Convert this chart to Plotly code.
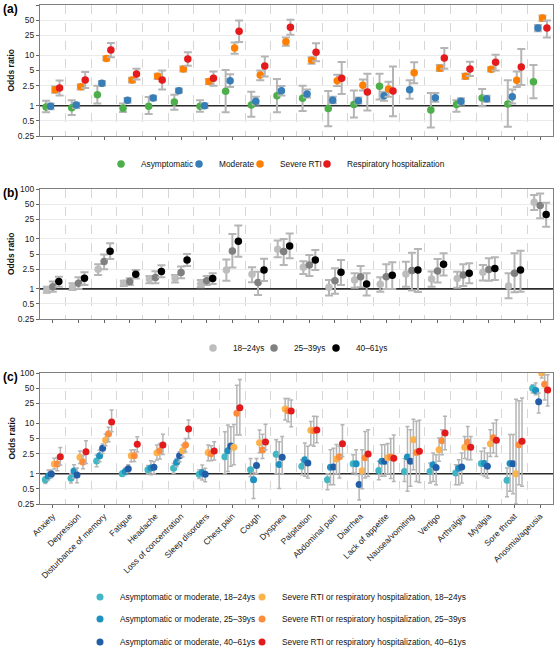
import numpy as np
import plotly.graph_objects as go

# ---------------- data ----------------
symptoms = ["Anxiety", "Depression", "Disturbance of memory", "Fatigue", "Headache",
            "Loss of concentration", "Sleep disorders", "Chest pain", "Cough", "Dyspnea",
            "Palpitation", "Abdominal pain", "Diarrhea", "Lack of appetite", "Nausea/vomiting",
            "Vertigo", "Arthralgia", "Myalgia", "Sore throat", "Anosmia/ageusia"]

y_tick_vals = [0.25, 0.5, 1, 2.5, 5, 10, 25, 50, 100]
y_tick_text = ["0.25", "0.5", "1", "2.5", "5", "10", "25", "50", "100"]

# Panel (a): severity of acute infection
a_names = ["Asymptomatic", "Moderate", "Severe RTI", "Respiratory hospitalization"]
a_asym_or = [0.94, 0.91, 1.65, 0.89, 0.98, 1.18, 0.97, 1.93, 1.03, 1.58, 1.4, 0.88, 1.06, 2.42, None, 0.82, 1.06, 1.42, 1.08, 3.0]
a_asym_lo = [0.74, 0.65, 1.1, 0.75, 0.68, 0.83, 0.76, 0.74, 0.6, 0.74, 0.78, 0.39, 0.58, 1.32, None, 0.37, 0.76, 0.97, 0.38, 1.4]
a_asym_hi = [1.26, 1.28, 2.5, 1.1, 1.49, 1.65, 1.28, 5.1, 1.9, 3.4, 2.5, 1.95, 2.0, 4.3, None, 1.78, 1.28, 2.14, 3.2, 6.4]
a_mod_or = [0.97, 1.03, 2.78, 1.28, 1.42, 1.99, 1.0, 3.14, 1.22, 1.99, 1.71, 1.28, 1.26, 1.58, 2.08, 1.44, 1.22, 1.38, 1.51, 35]
a_mod_lo = [0.85, 0.9, 2.5, 1.15, 1.28, 1.8, 0.9, 2.35, 1.05, 1.6, 1.45, 1.12, 1.1, 1.25, 1.38, 1.2, 1.05, 1.2, 1.1, 30]
a_mod_hi = [1.1, 1.15, 3.1, 1.42, 1.58, 2.2, 1.1, 4.2, 1.5, 2.45, 2.1, 1.5, 1.45, 1.9, 3.2, 1.78, 1.4, 1.58, 2.1, 40]
a_sev_or = [2.08, 2.38, 8.7, 3.24, 3.83, 5.35, 3.04, 14, 4.06, 18.7, 7.95, 3.14, 2.54, 2.14, 4.52, 5.52, 3.83, 5.27, 3.19, 55]
a_sev_lo = [1.8, 2.1, 7.9, 2.9, 3.4, 4.8, 2.7, 10.8, 3.2, 15.5, 6.8, 2.46, 2.0, 1.5, 2.8, 4.9, 3.4, 4.75, 2.35, 48]
a_sev_hi = [2.4, 2.65, 9.6, 3.6, 4.3, 6.0, 3.4, 18, 5.0, 22.5, 9.2, 4.1, 3.3, 3.0, 7.3, 6.4, 4.3, 5.8, 4.8, 62]
a_hosp_or = [2.24, 3.24, 12.8, 4.26, 3.24, 8.45, 3.49, 30, 6.14, 36, 11.5, 3.49, 1.87, 1.96, None, 8.85, 5.35, 7.26, 5.87, 35]
a_hosp_lo = [1.6, 2.24, 9.2, 3.3, 2.1, 6.2, 2.5, 18.4, 3.8, 25.6, 7.6, 1.7, 0.8, 0.62, None, 5.4, 3.9, 5.0, 2.57, 22.7]
a_hosp_hi = [3.18, 4.66, 17.6, 5.4, 5.0, 11.5, 4.8, 49, 9.5, 51, 17.3, 7.4, 4.3, 6.0, None, 14, 7.5, 10.3, 13.4, 49.5]

# Panel (b): age groups
b_names = ["18–24ys", "25–39ys", "40–61ys"]
b_y18_or = [0.95, 1.11, 2.47, 1.3, 1.58, 1.63, 1.26, 2.4, 1.96, 6.2, 2.71, 1.08, 1.51, 1.24, 2.0, 1.58, 1.61, 2.15, 1.15, 54]
b_y18_lo = [0.84, 0.95, 1.9, 1.15, 1.3, 1.34, 1.08, 1.45, 1.36, 4.3, 2.0, 0.74, 1.05, 0.88, 1.1, 1.11, 1.05, 1.47, 0.65, 38]
b_y18_hi = [1.11, 1.3, 3.11, 1.45, 1.82, 1.9, 1.51, 3.9, 2.7, 9.3, 3.6, 1.5, 2.06, 1.71, 3.5, 2.22, 2.2, 3.0, 2.06, 76]
b_y25_or = [1.11, 1.3, 3.52, 1.4, 1.69, 2.12, 1.45, 5.75, 1.34, 5.6, 3.0, 1.45, 1.76, 1.76, 2.33, 2.29, 1.9, 2.44, 2.06, 47]
b_y25_lo = [0.88, 1.0, 2.47, 1.2, 1.3, 1.63, 1.2, 2.67, 0.76, 3.0, 1.82, 0.8, 1.08, 1.0, 0.93, 1.34, 1.15, 1.45, 0.86, 26]
b_y25_hi = [1.4, 1.71, 4.86, 1.63, 2.26, 2.8, 1.82, 12.6, 2.2, 10, 4.78, 2.6, 2.88, 3.11, 5.3, 3.98, 3.11, 4.1, 5.2, 81]
b_y40_or = [1.4, 1.63, 5.67, 1.96, 2.22, 3.8, 1.61, 9.0, 2.4, 7.2, 3.8, 2.15, 1.26, 1.88, 2.4, 3.11, 2.06, 2.55, 2.4, 31]
b_y40_lo = [1.11, 1.2, 3.98, 1.61, 1.71, 2.88, 1.26, 4.4, 1.44, 4.1, 2.4, 1.2, 0.74, 1.0, 0.87, 1.85, 1.3, 1.5, 0.88, 17.6]
b_y40_hi = [1.76, 2.15, 8.2, 2.4, 2.97, 5.0, 2.06, 18.5, 4.0, 12.8, 6.0, 3.8, 2.06, 3.4, 6.3, 5.17, 3.26, 4.3, 5.8, 53]

# Panel (c): severity x age
c_names = ["Asymptomatic or moderate, 18–24ys", "Asymptomatic or moderate, 25–39ys",
           "Asymptomatic or moderate, 40–61ys", "Severe RTI or respiratory hospitalization, 18–24ys",
           "Severe RTI or respiratory hospitalization, 25–39ys", "Severe RTI or respiratory hospitalization, 40–61ys"]
c_am18_or = [0.76, 0.81, 1.79, 1.0, 1.2, 1.28, 0.97, 2.18, 1.2, 2.42, 1.4, 0.76, 1.58, 1.16, 1.11, 1.1, 1.03, 1.6, 0.74, 49.6]
c_am18_lo = [0.64, 0.65, 1.38, 0.9, 1.0, 1.02, 0.8, 1.0, 0.87, 1.0, 0.95, 0.48, 1.03, 0.76, 0.7, 0.65, 0.6, 0.95, 0.35, 40]
c_am18_hi = [0.87, 1.0, 2.35, 1.12, 1.45, 1.6, 1.2, 6.8, 2.0, 4.7, 1.9, 1.0, 2.38, 1.76, 2.0, 1.63, 1.51, 2.78, 1.3, 58.6]
c_am25_or = [0.9, 1.13, 2.28, 1.1, 1.3, 1.68, 1.06, 2.86, 0.76, 1.53, 1.9, 1.34, 1.58, 1.76, 2.14, 1.51, 1.28, 1.6, 1.6, 45]
c_am25_lo = [0.75, 0.82, 1.73, 0.95, 0.95, 1.38, 0.75, 1.1, 0.32, 0.51, 0.89, 0.6, 0.96, 0.89, 0.45, 0.7, 0.6, 0.88, 0.45, 37]
c_am25_hi = [1.18, 1.5, 2.95, 1.3, 1.8, 2.0, 1.49, 9.3, 1.06, 4.3, 4.07, 3.0, 3.0, 3.77, 8.7, 2.57, 1.9, 3.23, 6.0, 63]
c_am40_or = [0.99, 0.94, 3.19, 1.26, 1.34, 2.28, 0.98, 3.55, 1.46, 2.11, 1.63, 1.36, 0.61, 1.76, 1.76, 1.32, 1.36, 1.4, 1.58, 27]
c_am40_lo = [0.83, 0.66, 2.53, 1.05, 1.0, 1.73, 0.69, 1.4, 1.0, 1.0, 0.82, 0.6, 0.3, 0.89, 0.56, 0.6, 0.65, 0.82, 0.4, 16]
c_am40_hi = [1.18, 1.3, 3.88, 1.5, 1.75, 2.73, 1.28, 8.6, 2.0, 5.5, 3.5, 3.2, 0.96, 3.8, 7.5, 2.38, 2.57, 2.57, 6.0, 40]
c_sr18_or = [1.56, 2.11, 4.67, 2.28, 2.61, 2.86, 2.65, 3.34, 4.13, 19.3, 7.26, 1.96, 1.15, 2.08, 4.73, 3.0, 3.34, 3.95, 1.0, 100]
c_sr18_lo = [1.24, 1.6, 3.6, 1.73, 1.87, 2.17, 1.8, 1.5, 2.6, 11.7, 3.7, 1.0, 0.5, 1.0, 1.2, 1.76, 2.0, 2.2, 0.25, 80]
c_sr18_hi = [2.02, 2.82, 6.04, 2.95, 3.7, 3.7, 3.7, 9.5, 7.4, 31, 10.9, 3.8, 3.0, 4.0, 12, 5.1, 5.5, 7.5, 30, 130]
c_sr25_or = [1.56, 1.71, 6.23, 2.28, 2.86, 3.71, 2.5, 15.8, 2.95, 17.8, 7.15, 2.18, 2.08, 2.14, 2.65, 4.52, 4.2, 5.19, 3.77, 60]
c_sr25_lo = [1.15, 1.25, 4.3, 1.75, 1.95, 2.7, 1.8, 5.9, 2.0, 10.8, 3.5, 0.82, 0.82, 0.8, 0.7, 2.38, 1.9, 2.57, 0.6, 29]
c_sr25_hi = [2.1, 2.3, 8.4, 3.0, 4.0, 5.0, 3.6, 57, 6.1, 31, 13.8, 3.49, 6.9, 5.0, 11, 7.5, 8.7, 10.1, 28, 92]
c_sr40_or = [2.18, 2.74, 10.6, 3.83, 3.71, 7.7, 2.82, 20.5, 4.26, 17.6, 7.4, 3.95, 2.46, 2.02, 2.78, 6.43, 3.34, 4.6, 4.39, 46]
c_sr40_lo = [1.49, 1.6, 6.8, 2.7, 2.4, 5.0, 1.87, 5.9, 3.0, 8.6, 4.1, 2.2, 0.88, 0.7, 0.67, 3.0, 1.9, 2.2, 0.56, 22]
c_sr40_hi = [3.33, 4.5, 18.4, 5.4, 6.1, 11.6, 4.3, 74, 9.6, 29, 13.7, 9.4, 7.5, 5.9, 11.5, 13.8, 5.5, 11.8, 31.8, 92]

# ---------------- styling / layout ----------------
W, H = 558, 647
FONT = "Liberation Sans, Arial, sans-serif"
ERR_COL = "#b5b5b5"
a_colors = ["#4DAF4A", "#377EB8", "#FF7F00", "#E41A1C"]
b_colors = ["#bdbdbd", "#808080", "#000000"]
c_colors = ["#41b6c4", "#1d91c0", "#225ea8", "#feb24c", "#fd8d3c", "#e31a1c"]

X0, X1 = 40, 553
panels_px = {"a": (5, 136), "b": (189, 319), "c": (373, 504)}

# legend entry anchor points (pixel positions of the legend dots)
a_leg_pos = [(125, 164), (203, 164), (264, 164), (331, 164)]
b_leg_pos = [(217, 348), (278, 348), (340, 348)]
c_leg_pos = [(104, 597), (104, 619), (104, 642), (266, 597), (266, 619), (266, 642)]
LEG_DOT_OFFSET = 24
LEG_FONT = 8.3


def ydom(top, bottom):
    return [1 - bottom / H, 1 - top / H]


def py(ypx):
    return 1 - ypx / H


def dodge(n, width=0.7):
    return (np.arange(n) - (n - 1) / 2) * width / n


def arr(v):
    return np.array([np.nan if e is None else e for e in v], dtype=float)


fig = go.Figure()
n_cat = len(symptoms)
xs = np.arange(n_cat)

axis_keys = {"a": ("x", "y"), "b": ("x2", "y2"), "c": ("x3", "y3")}

# reference lines at OR = 1
for key in ["a", "b", "c"]:
    xa, ya = axis_keys[key]
    fig.add_trace(go.Scatter(x=[-0.5, n_cat - 0.5], y=[1, 1], mode="lines",
                             line=dict(color="#2b2b2b", width=1.6), hoverinfo="skip",
                             showlegend=False, xaxis=xa, yaxis=ya))

legends = {}
leg_counter = [0]


def new_legend(pos):
    leg_counter[0] += 1
    lid = "legend" if leg_counter[0] == 1 else f"legend{leg_counter[0]}"
    legends[lid] = dict(orientation="v", x=(pos[0] - LEG_DOT_OFFSET) / W, xanchor="left",
                        y=py(pos[1]), yanchor="middle",
                        font=dict(family=FONT, size=LEG_FONT, color="#111"), itemwidth=30,
                        bgcolor="rgba(0,0,0,0)", borderwidth=0)
    return lid


def add_series(key, offset, orv, lo, hi, name, color, pos, size, thick, capw):
    xa, ya = axis_keys[key]
    o, l, h = arr(orv), arr(lo), arr(hi)
    fig.add_trace(go.Scatter(
        x=xs + offset, y=o, mode="markers", name=name,
        marker=dict(color=color, size=size, line=dict(width=0)),
        error_y=dict(type="data", symmetric=False, array=h - o, arrayminus=o - l,
                     color=ERR_COL, thickness=thick, width=capw),
        xaxis=xa, yaxis=ya, legend=new_legend(pos)))


offs_a = dodge(4)
a_series = [(a_asym_or, a_asym_lo, a_asym_hi), (a_mod_or, a_mod_lo, a_mod_hi),
            (a_sev_or, a_sev_lo, a_sev_hi), (a_hosp_or, a_hosp_lo, a_hosp_hi)]
for i, (o, l, h) in enumerate(a_series):
    add_series("a", offs_a[i], o, l, h, a_names[i], a_colors[i], a_leg_pos[i], 7.5, 2, 4)

offs_b = dodge(3)
b_series = [(b_y18_or, b_y18_lo, b_y18_hi), (b_y25_or, b_y25_lo, b_y25_hi),
            (b_y40_or, b_y40_lo, b_y40_hi)]
for i, (o, l, h) in enumerate(b_series):
    add_series("b", offs_b[i], o, l, h, b_names[i], b_colors[i], b_leg_pos[i], 7.5, 2, 4)

offs_c = dodge(6)
c_series = [(c_am18_or, c_am18_lo, c_am18_hi), (c_am25_or, c_am25_lo, c_am25_hi),
            (c_am40_or, c_am40_lo, c_am40_hi), (c_sr18_or, c_sr18_lo, c_sr18_hi),
            (c_sr25_or, c_sr25_lo, c_sr25_hi), (c_sr40_or, c_sr40_lo, c_sr40_hi)]
for i, (o, l, h) in enumerate(c_series):
    add_series("c", offs_c[i], o, l, h, c_names[i], c_colors[i], c_leg_pos[i], 7, 1.5, 2)

xdom = [X0 / W, X1 / W]
base_x = dict(domain=xdom, range=[-0.5, n_cat - 0.5], tickmode="array", tickvals=list(xs),
              ticktext=symptoms, ticks="outside", ticklen=3, tickcolor="#666", tickwidth=1,
              showgrid=False, zeroline=False, showline=True, linecolor="#7f7f7f", linewidth=1,
              mirror=True, automargin=False,
              minor=dict(tickmode="linear", tick0=0.5, dtick=1, showgrid=True,
                         gridcolor="#d6d6d6", griddash="dash", gridwidth=1, ticks=""),
              tickfont=dict(family=FONT, size=8.5, color="#222"))
base_y = dict(type="log", range=[np.log10(0.25), 2], tickmode="array", tickvals=y_tick_vals,
              ticktext=y_tick_text, ticks="outside", ticklen=3, tickcolor="#666",
              showgrid=True, gridcolor="#ebebeb", gridwidth=1, zeroline=False,
              showline=True, linecolor="#7f7f7f", linewidth=1, mirror=True, automargin=False,
              tickfont=dict(family=FONT, size=8.5, color="#222"))

annotations = []
for lab, (top, bot) in zip(["(a)", "(b)", "(c)"], [panels_px["a"], panels_px["b"], panels_px["c"]]):
    annotations.append(dict(text=f"<b>{lab}</b>", x=0.002, y=py(top + 4), xref="paper", yref="paper",
                            showarrow=False, xanchor="left", yanchor="middle",
                            font=dict(family=FONT, size=12, color="#000")))
    annotations.append(dict(text="<b>Odds ratio</b>", x=11 / W, y=py((top + bot) / 2),
                            xref="paper", yref="paper", showarrow=False, textangle=-90,
                            xanchor="center", yanchor="middle",
                            font=dict(family=FONT, size=8.5, color="#111")))

layout = dict(
    width=W, height=H, margin=dict(l=0, r=0, t=0, b=0, pad=0, autoexpand=False),
    paper_bgcolor="white", plot_bgcolor="white",
    font=dict(family=FONT, size=8.5, color="#222"),
    xaxis=dict(base_x, anchor="y", showticklabels=False),
    xaxis2=dict(base_x, anchor="y2", showticklabels=False),
    xaxis3=dict(base_x, anchor="y3", showticklabels=True, tickangle=-45),
    yaxis=dict(base_y, anchor="x", domain=ydom(*panels_px["a"])),
    yaxis2=dict(base_y, anchor="x2", domain=ydom(*panels_px["b"])),
    yaxis3=dict(base_y, anchor="x3", domain=ydom(*panels_px["c"])),
    annotations=annotations,
)
layout.update(legends)
fig.update_layout(**layout)
fig.write_html("out.html", config={"displayModeBar": False},
               post_script="document.body.style.margin='0px';document.body.style.padding='0px';")
